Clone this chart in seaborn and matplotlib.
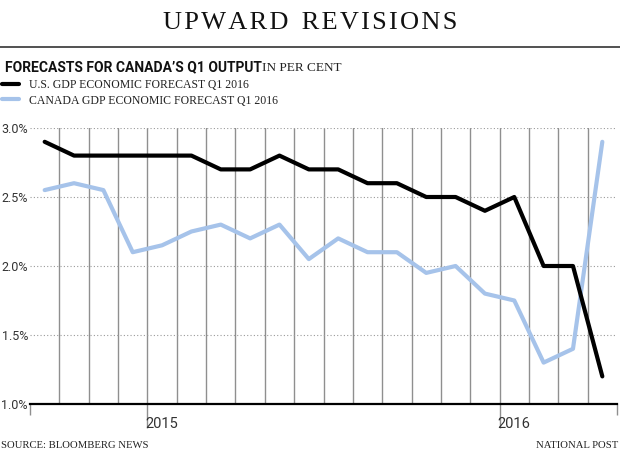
import matplotlib
matplotlib.use("Agg")
import matplotlib.pyplot as plt
import seaborn as sns
import pandas as pd
import numpy as np
from matplotlib.lines import Line2D

# ---- data (monthly forecasts, Sep 2014 .. Apr 2016) ----
months = ["2014-09", "2014-10", "2014-11", "2014-12", "2015-01", "2015-02", "2015-03",
          "2015-04", "2015-05", "2015-06", "2015-07", "2015-08", "2015-09", "2015-10",
          "2015-11", "2015-12", "2016-01", "2016-02", "2016-03", "2016-04"]
us_gdp = [2.9, 2.8, 2.8, 2.8, 2.8, 2.8, 2.7, 2.7, 2.8, 2.7,
          2.7, 2.6, 2.6, 2.5, 2.5, 2.4, 2.5, 2.0, 2.0, 1.2]
canada_gdp = [2.55, 2.6, 2.55, 2.1, 2.15, 2.25, 2.3, 2.2, 2.3, 2.05,
              2.2, 2.1, 2.1, 1.95, 2.0, 1.8, 1.75, 1.3, 1.4, 2.9]
series_names = ["U.S. GDP ECONOMIC FORECAST Q1 2016", "CANADA GDP ECONOMIC FORECAST Q1 2016"]
y_ticks = [1.0, 1.5, 2.0, 2.5, 3.0]
year_labels = ["2015", "2016"]

month_pos = np.arange(len(months)) + 0.5  # mid-month positions
df = pd.DataFrame({
    "x": np.concatenate([month_pos, month_pos]),
    "value": us_gdp + canada_gdp,
    "series": [series_names[0]] * len(months) + [series_names[1]] * len(months),
})

sns.set_theme(style="white")
serif = ["Liberation Serif", "DejaVu Serif"]
narrow = ["Roboto", "DejaVu Sans"]

fig = plt.figure(figsize=(6.2, 4.65), dpi=100)
ax = fig.add_axes([30 / 620, 1 - 404 / 465, (617 - 30) / 620, (404 - 128) / 465])

palette = {series_names[0]: "#000000", series_names[1]: "#a6c3ea"}
sns.lineplot(data=df, x="x", y="value", hue="series", palette=palette,
             hue_order=[series_names[1], series_names[0]],
             linewidth=3, ax=ax, legend=False, zorder=5)

n = len(months)
ax.set_xlim(0, n)
ax.set_ylim(1.0, 3.0)
ax.set_xlabel("")
ax.set_ylabel("")

for s in ["top", "right", "left"]:
    ax.spines[s].set_visible(False)
ax.spines["bottom"].set_color("black")
ax.spines["bottom"].set_linewidth(1.6)
ax.spines["bottom"].set_zorder(6)

# y axis
ax.set_yticks(y_ticks)
ax.set_yticklabels([f"{v:.1f}%" for v in y_ticks], family=narrow, fontsize=9, color="#333333")
ax.tick_params(axis="y", length=0, pad=1.5)
ax.yaxis.grid(True, linestyle=(0, (1, 2)), color="#9a9a9a", linewidth=0.8)

# x axis: month gridlines / ticks
first_year_idx = months.index("2015-01")
second_year_idx = months.index("2016-01")
ax.set_xticks(np.arange(1, n), minor=True)
ax.xaxis.grid(True, which="minor", color="#8f8f8f", linewidth=1.0)
ax.xaxis.grid(False, which="major")
ax.set_xticks([first_year_idx + 0.5, second_year_idx + 0.5])
ax.set_xticklabels(year_labels, family=narrow, fontsize=10.5, color="#333333")
ax.tick_params(axis="x", which="major", length=0, pad=9)
ax.tick_params(axis="x", which="minor", length=8, width=1.0, color="#8f8f8f", direction="out")

sec_short = ax.secondary_xaxis("bottom")
sec_short.set_xticks([0, n])
sec_short.set_xticklabels([])
sec_short.tick_params(length=8, width=1.0, color="#8f8f8f")
sec_short.spines["bottom"].set_visible(False)

sec_long = ax.secondary_xaxis("bottom")
sec_long.set_xticks([first_year_idx, second_year_idx])
sec_long.set_xticklabels([])
sec_long.tick_params(length=17, width=1.0, color="#8f8f8f")
sec_long.spines["bottom"].set_visible(False)

# ---- header ----
title = "\u200a".join("UPWARD") + "\u2002" + "\u200a".join("REVISIONS")
fig.text(0.5, 1 - 23 / 465, title, ha="center", va="center", family=serif,
         fontsize=19, color="#111111")
fig.add_artist(Line2D([0, 1], [1 - 47 / 465, 1 - 47 / 465], color="#333333", linewidth=1.2))

sub = fig.text(5 / 620, 1 - 71 / 465, "FORECASTS FOR CANADA\u2019S Q1 OUTPUT", ha="left",
               va="baseline", family=narrow, fontweight="bold", fontsize=10, color="#111111")
fig.canvas.draw()
bb = sub.get_window_extent()
fig.text(bb.x1 / 620, 1 - 71 / 465, "IN PER CENT", ha="left", va="baseline",
         family=serif, fontsize=9.5, color="#222222")

# legend
handles = [Line2D([], [], color=palette[s], linewidth=3) for s in series_names]
fig.legend(handles, series_names, loc="upper left", bbox_to_anchor=(2 / 620, 1 - 79 / 465),
           frameon=False, prop={"family": serif, "size": 8.5}, handlelength=1.45,
           handletextpad=0.8, labelspacing=0.3, borderaxespad=0, borderpad=0,
           labelcolor="#222222")

# footer
fig.text(1 / 620, 1 - 445 / 465, "SOURCE: BLOOMBERG NEWS", ha="left", va="center",
         family=serif, fontsize=7.7, color="#222222")
fig.text(618 / 620, 1 - 445 / 465, "NATIONAL POST", ha="right", va="center",
         family=serif, fontsize=7.7, color="#222222")

fig.savefig("out.png", dpi=100)
